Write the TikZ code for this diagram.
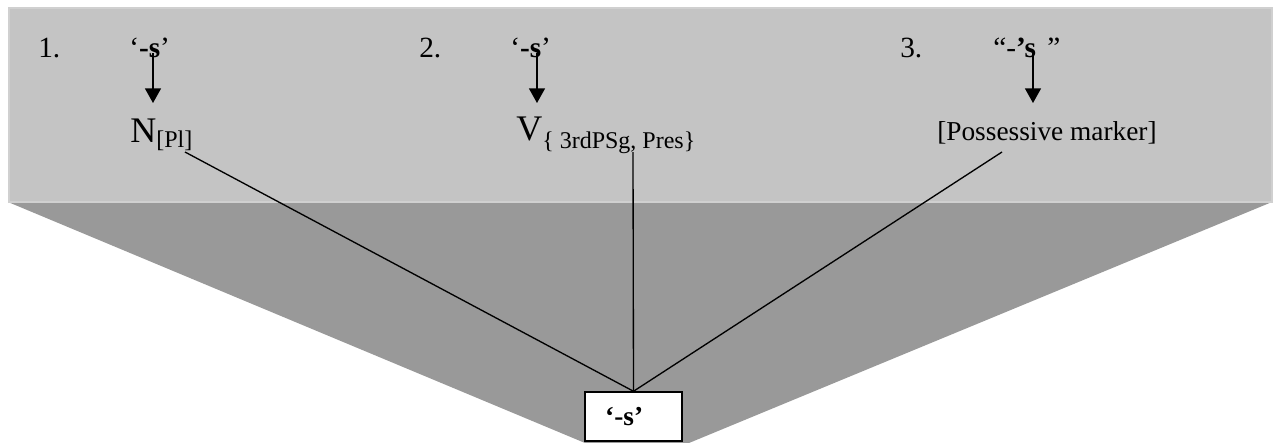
\documentclass[tikz,border=0pt]{standalone}
\usepackage{fontspec}
\setmainfont{Liberation Serif}
\usetikzlibrary{arrows.meta,positioning,calc}
\definecolor{panelgray}{RGB}{196,196,196}
\definecolor{panelrim}{RGB}{208,208,208}
\definecolor{fangray}{RGB}{153,153,153}
\tikzset{
  numlab/.style ={anchor=base west, inner sep=0pt, font=\fontsize{22}{26}\selectfont},
  morph/.style  ={anchor=base west, inner sep=0pt, font=\fontsize{22}{26}\selectfont},
  cat/.style    ={anchor=base west, inner sep=0pt, font=\fontsize{27}{31}\selectfont},
  rootbox/.style={rectangle, draw=black, fill=white, line width=1.1pt,
                  minimum width=72.75pt, minimum height=36.75pt, inner sep=0pt,
                  font=\bfseries\fontsize{20.5}{24}\selectfont},
  flow/.style   ={-{Triangle[length=11pt,width=12pt]}, line width=1.1pt},
  link/.style   ={line width=1pt},
}
\newcommand{\lowsub}[2]{\raisebox{-#1}{\fontsize{18}{21}\selectfont #2}}

\begin{document}
\begin{tikzpicture}[x=0.75pt, y=-0.75pt]
  \useasboundingbox (0,0) rectangle (1279,443);
  % panel with the fan under it
  \fill[fangray] (8,202) -- (1272,202) -- (689,443) -- (585,443) -- cycle;
  \draw[panelrim, fill=panelgray, line width=1.5pt] (9,8) rectangle (1272,202);

  \node[numlab] (n1) at (38,57)  {1.};
  \node[numlab] (n2) at (419,57) {2.};
  \node[numlab] (n3) at (900,57) {3.};

  \node[morph] (m1) at (129,57) {‘\textbf{-s}’};
  \node[morph] (m2) at (510,57) {‘\textbf{-s}’};
  \node[morph] (m3) at (993,57) {“-\textbf{’s}\hspace{3pt} ”};

  \node[cat]   (c1) at (130,142) {N\lowsub{3.75pt}{[Pl]}};
  \node[cat]   (c2) at (516,140) {V\lowsub{6pt}{\{ 3rdPSg, Pres\}}};
  \node[morph, font=\fontsize{20.5}{24}\selectfont] (c3) at (937,140) {[Possessive marker]};

  \node[rootbox] (root) at (633.5,416.5) {‘-s’\hspace*{14pt}};

  % arrows from the morphs
  \coordinate (s1) at (153,53);   \coordinate (h1) at (153,103);
  \coordinate (s2) at (537,53);   \coordinate (h2) at (537,103);
  \coordinate (s3) at (1033,53);  \coordinate (h3) at (1033,103);
  \draw[flow] (s1) -- (h1);
  \draw[flow] (s2) -- (h2);
  \draw[flow] (s3) -- (h3);

  % lines down to the shared form
  \coordinate (l1) at (185,152);
  \coordinate (l2) at (633,152);
  \coordinate (l3) at (1002,152);
  \draw[link] (l1) -- (root.north);
  \draw[link] (l2) -- (root.north);
  \draw[link] (l3) -- (root.north);
\end{tikzpicture}
\end{document}
